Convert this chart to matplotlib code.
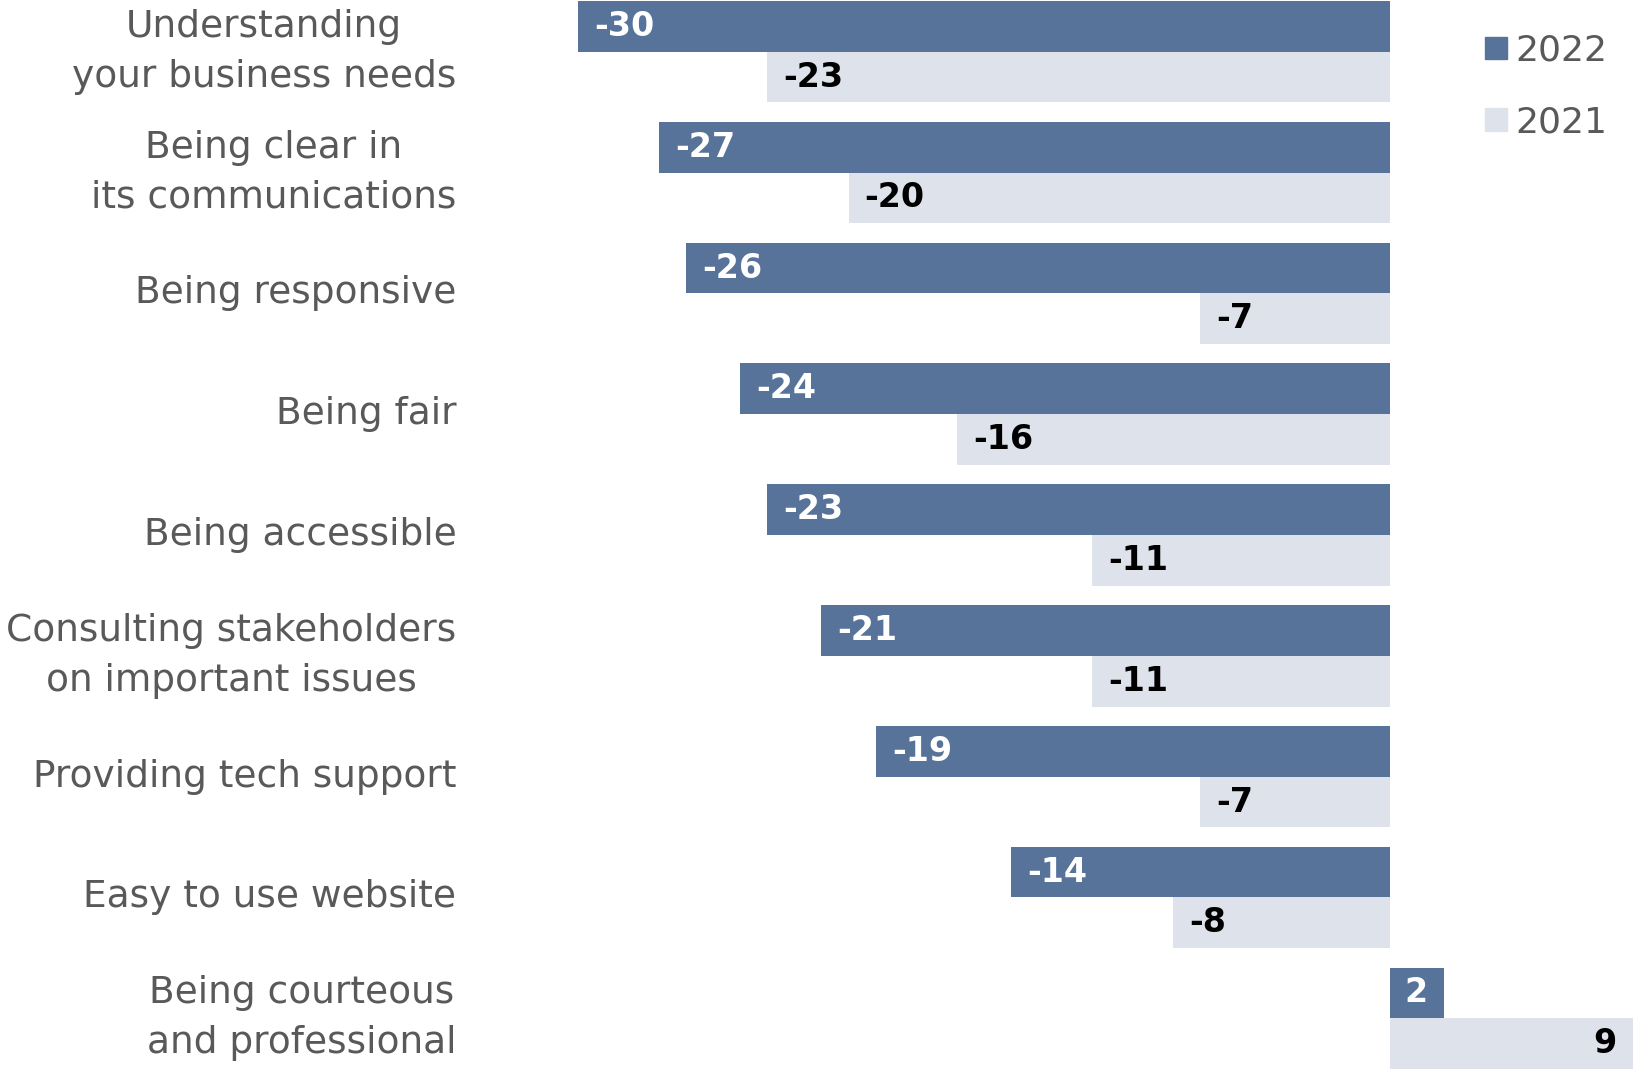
import numpy as np
import matplotlib
matplotlib.use("Agg")
import matplotlib.pyplot as plt
from matplotlib.patches import Patch

# =========================
# DATA
# =========================
categories = [
    "Understanding\nyour business needs",
    "Being clear in\nits communications",
    "Being responsive",
    "Being fair",
    "Being accessible",
    "Consulting stakeholders\non important issues",
    "Providing tech support",
    "Easy to use website",
    "Being courteous\nand professional",
]
values_2022 = [-30, -27, -26, -24, -23, -21, -19, -14, 2]
values_2021 = [-23, -20, -7, -16, -11, -11, -7, -8, 9]
series_names = ["2022", "2021"]

# =========================
# STYLE
# =========================
COLOR_2022 = "#587399"
COLOR_2021 = "#dee2eb"
LABEL_GRAY = "#595959"
BAR_H = 0.42
PAD = 0.6

fig = plt.figure(figsize=(16.39, 10.69), dpi=100)
ax = fig.add_axes([578 / 1639, 0.0, (1633 - 578) / 1639, 1068 / 1069])

y = np.arange(len(categories))
ax.barh(y - BAR_H / 2, values_2022, height=BAR_H, color=COLOR_2022, label=series_names[0])
ax.barh(y + BAR_H / 2, values_2021, height=BAR_H, color=COLOR_2021, label=series_names[1])

ax.set_xlim(-30, 9)
ax.set_ylim(len(categories) - 1 + BAR_H, -BAR_H)


def put_label(val, ypos, color):
    if val < 0:
        ax.text(val + PAD, ypos, f"{val}", ha="left", va="center",
                fontsize=24, fontweight="bold", color=color)
    else:
        ax.text(val - PAD, ypos, f"{val}", ha="right", va="center",
                fontsize=24, fontweight="bold", color=color)


for i in range(len(categories)):
    put_label(values_2022[i], y[i] - BAR_H / 2, "white")
    put_label(values_2021[i], y[i] + BAR_H / 2, "black")

# category labels, right-aligned block, centred lines
for i, cat in enumerate(categories):
    ax.text(-30 - 4.5, y[i], cat, ha="right", va="center", multialignment="center",
            fontsize=27, color=LABEL_GRAY, linespacing=1.5)

ax.set_yticks([])
ax.set_xticks([])
for s in ax.spines.values():
    s.set_visible(False)

handles = [Patch(color=COLOR_2022), Patch(color=COLOR_2021)]
leg = ax.legend(handles, series_names, loc="upper right", bbox_to_anchor=(1.0, 0.993),
                frameon=False, fontsize=26, handlelength=0.6, handleheight=0.6,
                handletextpad=0.25, labelspacing=1.05, labelcolor=LABEL_GRAY,
                borderaxespad=0.3)

fig.savefig("out.png", dpi=100, facecolor="white")
